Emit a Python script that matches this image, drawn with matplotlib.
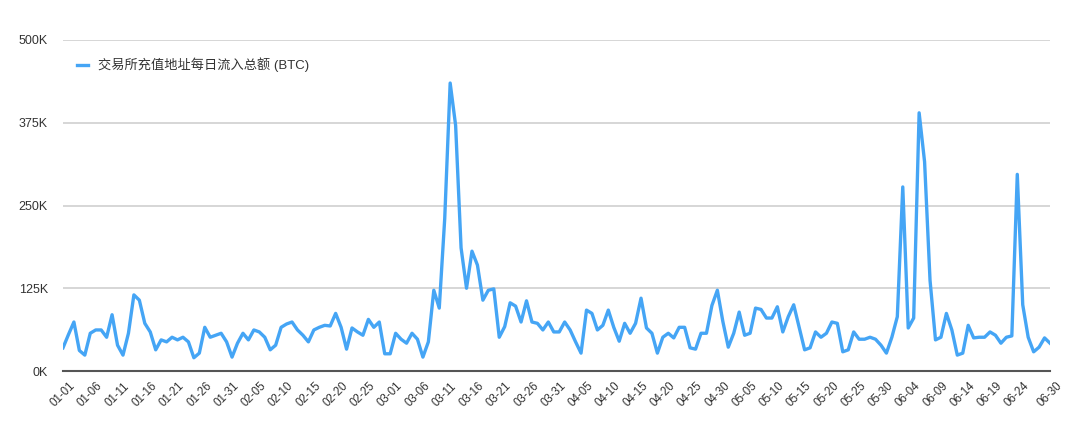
import datetime as dt
import matplotlib
matplotlib.use("Agg")
import matplotlib.pyplot as plt

plt.rcParams['font.family'] = ['Liberation Sans', 'Noto Sans CJK SC', 'DejaVu Sans']

# ---- data (daily inflow, thousands of BTC), 2020-01-01 .. 2020-06-30 ----
jan = [35, 55, 74, 31, 24, 57, 62, 62, 51, 85, 39, 24, 57, 115, 107, 72, 59, 32, 47, 44,
       51, 47, 51, 44, 20, 27, 66, 51, 54, 57, 44]
feb = [21, 42, 57, 47, 62, 59, 51, 32, 39, 66, 71, 74, 62, 54, 44, 62, 66, 69, 68, 87,
       66, 33, 65, 59, 54, 78, 66, 74, 26]
mar = [26, 57, 48, 42, 57, 48, 21, 44, 122, 95, 230, 435, 371, 186, 125, 181, 160, 107, 122, 124,
       51, 67, 103, 98, 74, 106, 74, 72, 62, 74, 59]
apr = [59, 74, 62, 44, 27, 92, 87, 62, 69, 92, 66, 45, 72, 57, 72, 110, 65, 57, 27, 51,
       57, 50, 66, 66, 35, 33, 57, 57, 99, 122]
may = [75, 36, 57, 89, 54, 57, 95, 93, 80, 80, 97, 59, 82, 100, 66, 32, 35, 59, 51, 57,
       74, 72, 29, 32, 59, 48, 48, 51, 48, 39, 27]
jun = [51, 82, 278, 65, 80, 390, 316, 137, 47, 51, 87, 62, 24, 27, 69, 50, 51, 51, 59, 54,
       42, 51, 53, 297, 100, 51, 29, 36, 50, 42]

values = jan + feb + mar + apr + may + jun
start = dt.date(2020, 1, 1)
dates = [(start + dt.timedelta(days=i)).strftime("%m-%d") for i in range(len(values))]

tick_idx = list(range(0, len(values) - 5, 5)) + [len(values) - 1]
tick_labels = [dates[i] for i in tick_idx]
y_ticks = [0, 125, 250, 375, 500]
y_labels = [f"{v}K" for v in y_ticks]
series_name = "交易所充值地址每日流入总额 (BTC)"

# ---- figure ----
W, H = 1080, 443
fig = plt.figure(figsize=(W / 100, H / 100), dpi=100)
fig.patch.set_facecolor("white")
ax = fig.add_axes([63 / W, 1 - 371 / H, (1050 - 63) / W, (371 - 40) / H])

x = list(range(len(values)))
ax.plot(x, values, color="#45a5f5", lw=2.4, label=series_name, solid_joinstyle="round", zorder=3)

ax.set_xlim(0, len(values) - 1)
ax.set_ylim(0, 500)
ax.set_yticks(y_ticks)
ax.set_yticklabels(y_labels, fontsize=9, color="#333333")
ax.set_xticks(tick_idx)
ax.set_xticklabels(tick_labels, fontsize=8.3, color="#333333", rotation=45,
                   ha="center", va="center", rotation_mode="anchor")

ax.tick_params(axis="both", length=0)
ax.tick_params(axis="y", pad=11)
ax.tick_params(axis="x", pad=17)
ax.yaxis.grid(True, color="#d0d0d0", lw=1.2)
ax.set_axisbelow(True)
for s in ["top", "right", "left"]:
    ax.spines[s].set_visible(False)
ax.spines["bottom"].set_color("#555555")
ax.spines["bottom"].set_linewidth(1.5)

leg = ax.legend(loc="center left", bbox_to_anchor=(77 / W, 1 - 65 / H),
                bbox_transform=fig.transFigure, frameon=False, borderpad=0,
                borderaxespad=0, handlelength=0.8, handletextpad=0.8,
                prop={"size": 9.5})
for t in leg.get_texts():
    t.set_color("#333333")

fig.savefig("out.png", dpi=100)
